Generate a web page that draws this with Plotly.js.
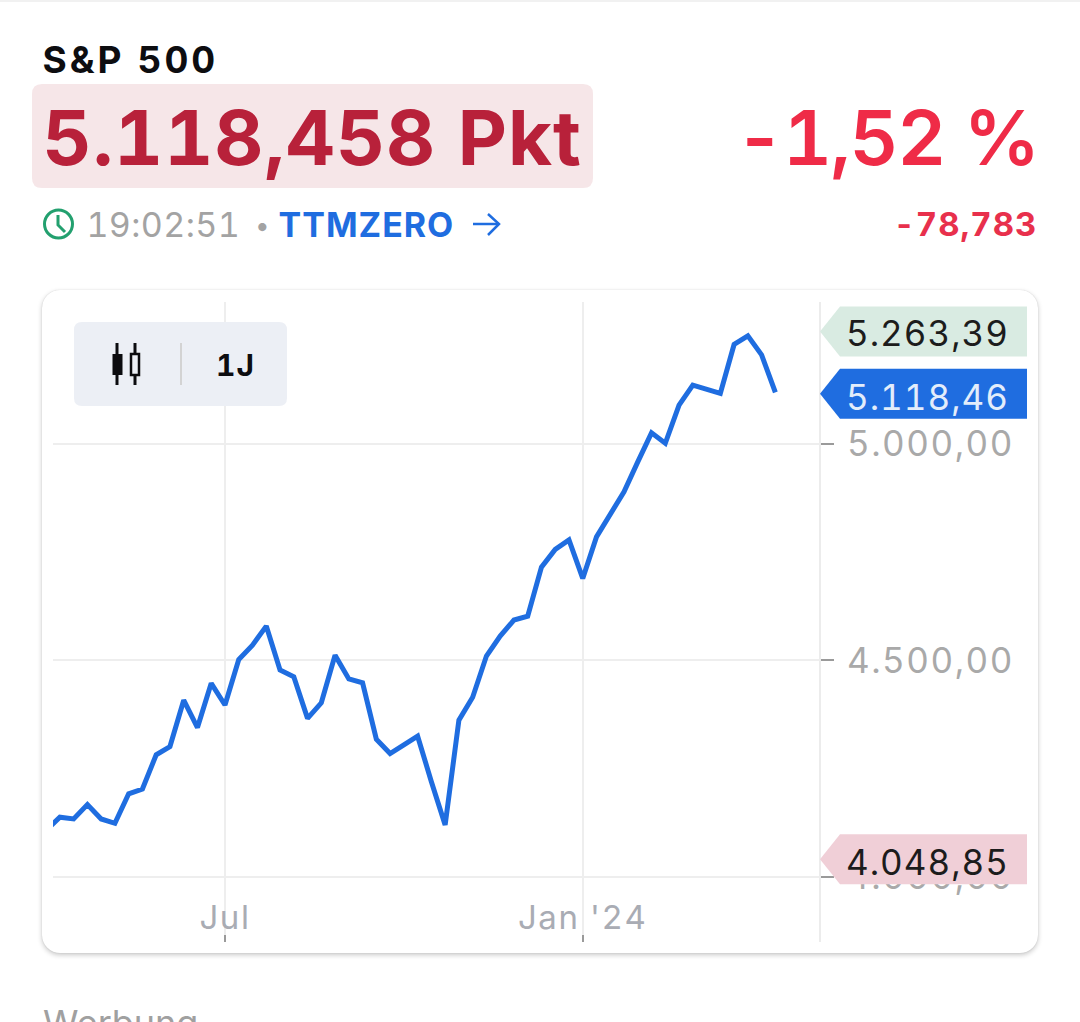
<!DOCTYPE html>
<html><head><meta charset="utf-8">
<script src="https://cdn.plot.ly/plotly-3.0.1.min.js"></script>
<style>
html,body{margin:0;padding:0;background:#fff;width:1080px;height:1022px;overflow:hidden}
#card{position:absolute;left:42px;top:290px;width:996px;height:663px;border-radius:18px;background:#fff;box-shadow:0 2px 5px rgba(0,0,0,.22),0 0 1px rgba(0,0,0,.18)}
#chart{position:absolute;left:0;top:0;width:1080px;height:1022px}
text{font-variant-numeric:tabular-nums;font-feature-settings:"tnum" 1}
.ytick text{letter-spacing:1.5px}
.xtick text{letter-spacing:1.6px}
.annotation[data-index="0"] text{letter-spacing:3px}
.annotation[data-index="1"] text{letter-spacing:1px}
.annotation[data-index="2"] text{letter-spacing:-1.5px}
.annotation[data-index="3"] text{letter-spacing:.4px}
.annotation[data-index="5"] text{letter-spacing:1px}
.annotation[data-index="6"] text{letter-spacing:1px}
.annotation[data-index="7"] text{letter-spacing:1px}
.annotation[data-index="9"] text,.annotation[data-index="10"] text,.annotation[data-index="11"] text{letter-spacing:1px}
</style></head><body>
<div id="card"></div><div id="chart"></div>
<script>
const dates=["2023-04-03","2023-04-10","2023-04-17","2023-04-24","2023-05-01","2023-05-08","2023-05-15","2023-05-22","2023-05-29","2023-06-05","2023-06-12","2023-06-19","2023-06-26","2023-07-03","2023-07-10","2023-07-17","2023-07-24","2023-07-31","2023-08-07","2023-08-14","2023-08-21","2023-08-28","2023-09-04","2023-09-11","2023-09-18","2023-09-25","2023-10-02","2023-10-09","2023-10-16","2023-10-23","2023-10-30","2023-11-06","2023-11-13","2023-11-20","2023-11-27","2023-12-04","2023-12-11","2023-12-18","2023-12-25","2024-01-01","2024-01-08","2024-01-15","2024-01-22","2024-01-29","2024-02-05","2024-02-12","2024-02-19","2024-02-26","2024-03-04","2024-03-11","2024-03-18","2024-03-25","2024-04-01","2024-04-08"];
const closes=[4108,4138,4134,4167,4134,4124,4192,4203,4282,4301,4408,4345,4447,4397,4502,4535,4579,4478,4462,4366,4402,4512,4457,4448,4318,4285,4305,4325,4220,4120,4362,4415,4510,4556,4593,4602,4715,4756,4778,4689,4785,4839,4889,4958,5025,5001,5089,5135,5124,5116,5229,5249,5205,5118.46];
const yTickVals=[4000,4500,5000];
const yTickText=["4.000,00","4.500,00","5.000,00"];
const xTickVals=["2023-07-03","2024-01-01"];
const xTickText=["Jul","Jan '24"];
const tagValues=[5263.39,5118.46,4048.85];
const tagTexts=["5.263,39","5.118,46","4.048,85"];
const tagFills=["#d9ebe2","#1f6de0","#f0cfd7"];
const tagInk=["#1c1c1c","#e3edfb","#1c1c1c"];
const tagNudge=[-2,-1.5,-3.4];
const tagTextShift=[-3,-4.5,-6.4];

const W=1080,H=1022,FONT='Inter, "Noto Sans", sans-serif';
const px=x=>x/W, py=y=>1-y/H;
function txt(text,x,y,size,color,weight,anchor){
  return {text,xref:'paper',yref:'paper',x:px(x),y:py(y),xanchor:anchor||'left',yanchor:'middle',showarrow:false,
    font:{family:FONT,size,color,weight:weight||400},borderpad:0};
}
function pathShape(d,extra){return Object.assign({type:'path',xref:'paper',yref:'paper',path:d,layer:'above',line:{width:0}},extra);}
function P(points){return points.map((p,i)=>(i?'L':'M')+px(p[0])+','+py(p[1])).join(' ');}
function rr(x0,y0,x1,y1,r){const q=(a,b)=>px(a)+','+py(b);
  return `M${q(x0+r,y0)} L${q(x1-r,y0)} Q${q(x1,y0)} ${q(x1,y0+r)} L${q(x1,y1-r)} Q${q(x1,y1)} ${q(x1-r,y1)} L${q(x0+r,y1)} Q${q(x0,y1)} ${q(x0,y1-r)} L${q(x0,y0+r)} Q${q(x0,y0)} ${q(x0+r,y0)} Z`;}

const shapes=[
  pathShape(P([[0,0],[1080,0],[1080,2],[0,2]])+' Z',{fillcolor:'#f1f1f1'}),
  pathShape(rr(32,84,593,188,10),{fillcolor:'#f6e6e8',layer:'below'}),
  {type:'circle',xref:'paper',yref:'paper',x0:px(44.5),x1:px(72.5),y0:py(238),y1:py(210),line:{color:'#23a06f',width:3},fillcolor:'rgba(0,0,0,0)'},
  pathShape(P([[58,215],[58,225],[65,232]]),{line:{color:'#23a06f',width:3},fillcolor:'rgba(0,0,0,0)'}),
  pathShape(P([[473,224],[499,224]]),{line:{color:'#1f6de0',width:2.5},fillcolor:'rgba(0,0,0,0)'}),
  pathShape(P([[488,214],[499,224],[488,235]]),{line:{color:'#1f6de0',width:2.5},fillcolor:'rgba(0,0,0,0)'}),
  pathShape(rr(74,322,287,406,8),{fillcolor:'#eceff5'}),
  pathShape(P([[117,343],[117,385]]),{line:{color:'#0c0c0f',width:3}}),
  pathShape(P([[112.5,354],[122.5,354],[122.5,375],[112.5,375]])+' Z',{fillcolor:'#0c0c0f'}),
  pathShape(P([[135,343],[135,385]]),{line:{color:'#0c0c0f',width:3}}),
  pathShape(P([[131,354],[139,354],[139,375],[131,375]])+' Z',{fillcolor:'#eceff5',line:{color:'#0c0c0f',width:2.5}}),
  pathShape(P([[181,343],[181,385]]),{line:{color:'#d3d3d3',width:2}}),
  pathShape(P([[820,302],[820,942]]),{line:{color:'#ececec',width:2},layer:'below'})
];
tagValues.forEach((v,i)=>{
  const n=tagNudge[i];
  shapes.push({type:'path',xref:'paper',yref:'y',xsizemode:'pixel',ysizemode:'pixel',xanchor:px(820),yanchor:v,
    path:`M0,${n} L20,${n+25} L207,${n+25} L207,${n-25} L20,${n-25} Z`,fillcolor:tagFills[i],line:{width:0},layer:'above'});
});

const annotations=[
  txt('S&P 500',51.5,59,37,'#0d0d10',700),
  txt('5.118,458 Pkt',47.5,137,76,'#b8213a',700),
  txt('-1,52 %',1044.5,137,76,'#ef2b47',600,'right'),
  txt('19:02:51',86.5,224,34,'#a3a3a3',400),
  txt('•',254,226,26,'#a3a3a3',400),
  txt('TTMZERO',281,224,34,'#1f6de0',700),
  txt('-78,783',1035,224,33,'#e8304c',700,'right'),
  txt('1J',216,365,30,'#0d0d10',700),
  txt('Werbung',42,1023,36,'#a0a0a0',400)
];
tagValues.forEach((v,i)=>{
  annotations.push({text:tagTexts[i],xref:'paper',yref:'y',x:px(847.5),y:v,yshift:tagTextShift[i],xanchor:'left',yanchor:'middle',showarrow:false,
    font:{family:FONT,size:35,color:tagInk[i]}});
});

Plotly.newPlot('chart',[{
  type:'scatter',mode:'lines',x:dates,y:closes,hoverinfo:'skip',
  line:{color:'#1f6de0',width:5,shape:'linear'}
}],{
  width:W,height:H,autosize:false,showlegend:false,
  paper_bgcolor:'rgba(0,0,0,0)',plot_bgcolor:'rgba(0,0,0,0)',
  margin:{l:0,r:0,t:0,b:0,pad:0},
  xaxis:{type:'date',domain:[53/W,820/W],anchor:'y',range:['2023-04-06 12:00','2024-04-30 17:00'],tickmode:'array',tickvals:xTickVals,ticktext:xTickText,
    ticks:'inside',ticklen:7,tickwidth:2,tickcolor:'#9a9a9a',ticklabelposition:'inside',ticklabelstandoff:3,
    showgrid:true,gridcolor:'#eeeeee',gridwidth:2,zeroline:false,showline:false,
    tickfont:{family:FONT,size:33,color:'#a9acb4'},automargin:false},
  yaxis:{side:'right',domain:[1-942/H,1-302/H],anchor:'x',range:[3850,5327],tickmode:'array',tickvals:yTickVals,ticktext:yTickText,
    ticks:'outside',ticklen:13,tickwidth:2,tickcolor:'#9a9a9a',ticklabelstandoff:6,
    showgrid:true,gridcolor:'#eeeeee',gridwidth:2,zeroline:false,showline:false,
    tickfont:{family:FONT,size:35,color:'#a9a9a9'},automargin:false},
  shapes,annotations
},{displayModeBar:false,staticPlot:true});
</script>
</body></html>
